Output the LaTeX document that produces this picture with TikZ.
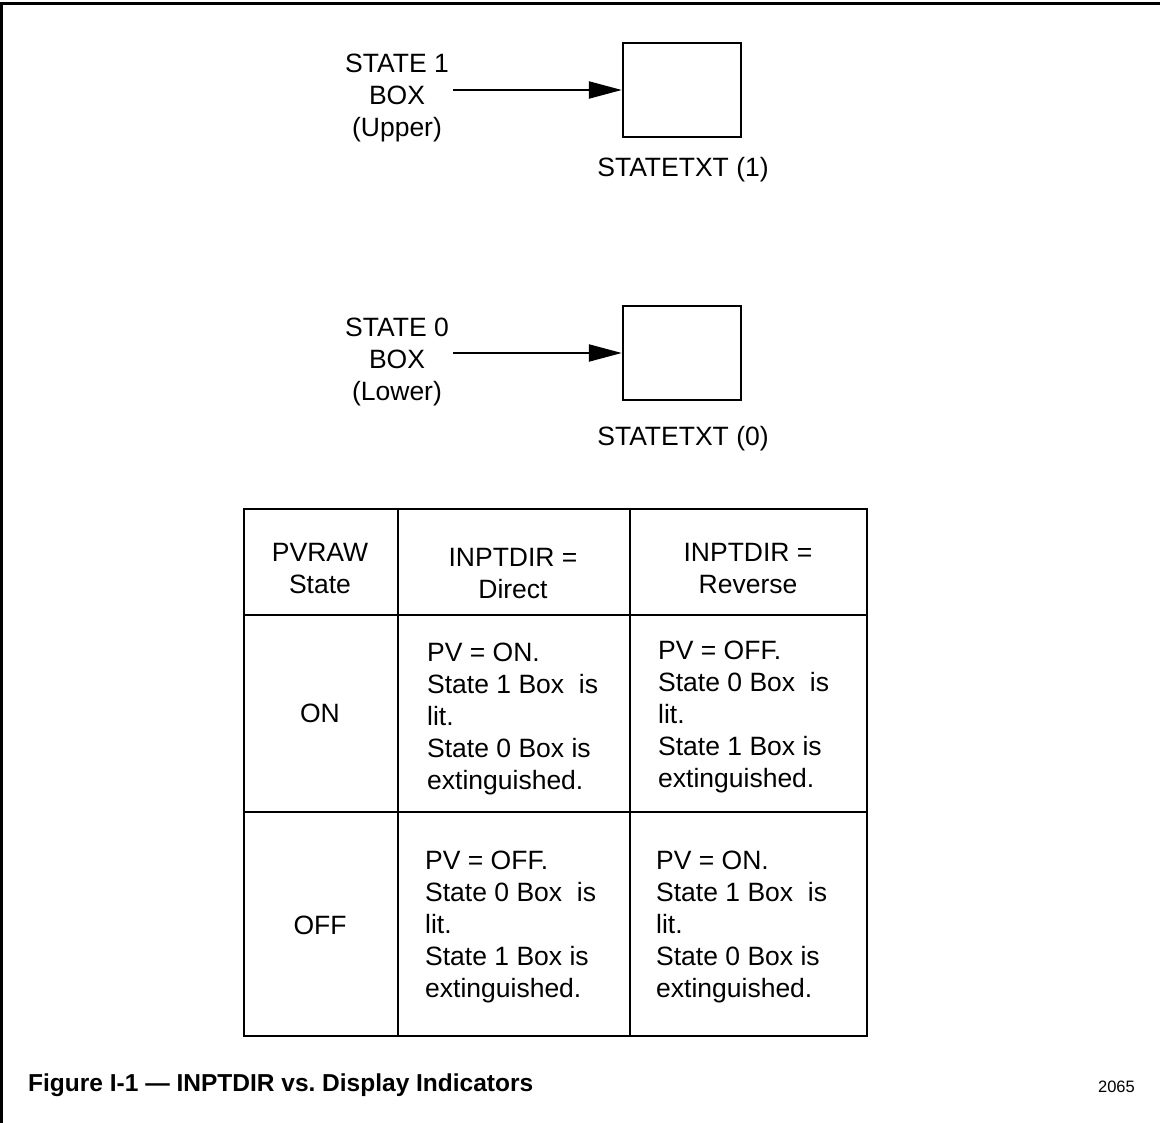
\documentclass[tikz,border=0pt]{standalone}
\usepackage{fontspec}
\setmainfont{Liberation Sans}
\usetikzlibrary{arrows.meta}
\frenchspacing
\begin{document}
\begin{tikzpicture}[x=1pt,y=-1pt,
  txt/.style={inner sep=0pt, font=\fontsize{26.5}{32}\selectfont},
  lbl/.style={txt, align=center},
  cell/.style={txt, align=left, anchor=west},
  ind/.style={draw, line width=2.4pt, minimum width=118pt, minimum height=94pt, inner sep=0pt},
  conn/.style={line width=2.2pt, -{Triangle[length=33pt,width=17pt]}},
  grid/.style={line width=2.2pt},
]
\useasboundingbox (0,0) rectangle (1160,1123);
\fill[white] (0,0) rectangle (1160,1123);
% frame
\draw[line width=3pt] (0,4) -- (1160,4);
\draw[line width=2.5pt] (1.25,2.5) -- (1.25,1123);

% upper indicator
\node[ind] (box1) at (682,90) {};
\coordinate (s1) at (453,90);
\draw[conn] (s1) -- (box1.west);
\node[lbl] (lab1) at (397,98.5) {STATE 1\\BOX\\(Upper)};
\node[txt, anchor=base] (st1) at (683,177) {STATETXT (1)};

% lower indicator
\node[ind] (box0) at (682,353) {};
\coordinate (s0) at (453,353);
\draw[conn] (s0) -- (box0.west);
\node[lbl] (lab0) at (397,361.5) {STATE 0\\BOX\\(Lower)};
\node[txt, anchor=base] (st0) at (683,446) {STATETXT (0)};

% table grid
\coordinate (tl) at (244,509);
\coordinate (br) at (867,1036);
\draw[grid] (tl) rectangle (br);
\draw[grid] (398,509) -- (398,1036);
\draw[grid] (630,509) -- (630,1036);
\draw[grid] (244,615) -- (867,615);
\draw[grid] (244,812) -- (867,812);

% header
\node[lbl] (h1) at (320,569) {PVRAW\\State};
\node[lbl] (h2) at (513,574) {INPTDIR =\\Direct};
\node[lbl] (h3) at (748,569) {INPTDIR =\\Reverse};

% rows
\node[txt] (r1) at (320,713) {ON};
\node[txt] (r2) at (320,925) {OFF};
\node[cell] (c11) at (427,718.5) {PV = ON.\\State 1 Box\ \ is\\lit.\\State 0 Box is\\extinguished.};
\node[cell] (c12) at (658,717) {PV = OFF.\\State 0 Box\ \ is\\lit.\\State 1 Box is\\extinguished.};
\node[cell] (c21) at (425,926.5) {PV = OFF.\\State 0 Box\ \ is\\lit.\\State 1 Box is\\extinguished.};
\node[cell] (c22) at (656,926.5) {PV = ON.\\State 1 Box\ \ is\\lit.\\State 0 Box is\\extinguished.};

% caption
\node[anchor=base west, inner sep=0pt, font=\fontsize{24.5}{30}\selectfont\bfseries] (cap) at (28,1091) {Figure I-1 — INPTDIR vs. Display Indicators};
\node[anchor=base east, inner sep=0pt, font=\fontsize{16.5}{20}\selectfont] (num) at (1135,1092) {2065};
\end{tikzpicture}
\end{document}
